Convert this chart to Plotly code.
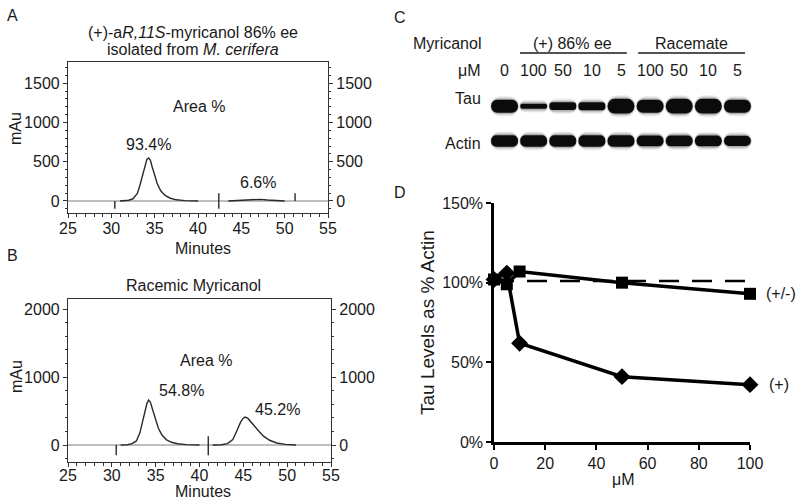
import plotly.graph_objects as go

# ---------------- data ----------------
# Panel A chromatogram: (+)-myricanol 86% ee
a_peak1_time = [31.0, 31.5, 32.0, 32.5, 33.0, 33.3, 33.6, 33.9, 34.1, 34.3, 34.5, 34.7, 35.0, 35.3, 35.7, 36.2, 36.8, 37.5, 38.5, 40.0]
a_peak1_mau = [0, 3, 10, 28, 95, 200, 330, 460, 530, 547, 520, 440, 320, 220, 130, 70, 35, 15, 5, 0]
a_peak2_time = [43.5, 44.5, 45.5, 46.0, 46.6, 47.2, 48.0, 49.0, 50.0]
a_peak2_mau = [0, 5, 15, 21, 25, 21, 12, 4, 0]
a_markers_time = [30.4, 42.4, 51.2]
a_markers_low = [-100, -100, 0]
a_markers_high = [0, 100, 100]
a_peak_labels = ["93.4%", "6.6%"]
a_label_time = [34.3, 46.9]
a_label_mau = [725, 229]

# Panel B chromatogram: racemic myricanol
b_peak1_time = [31.0, 31.8, 32.3, 32.8, 33.2, 33.5, 33.8, 34.0, 34.2, 34.4, 34.7, 35.0, 35.3, 35.7, 36.2, 36.8, 37.5, 38.5, 40.0]
b_peak1_mau = [0, 5, 20, 60, 180, 330, 500, 610, 662, 630, 500, 360, 250, 150, 80, 40, 18, 6, 0]
b_peak2_time = [41.5, 42.5, 43.2, 43.8, 44.3, 44.7, 45.0, 45.2, 45.5, 45.9, 46.4, 46.8, 47.3, 48.0, 48.8, 49.8, 51.0]
b_peak2_mau = [0, 5, 20, 80, 220, 340, 395, 412, 395, 330, 260, 200, 130, 70, 30, 10, 0]
b_markers_time = [30.5, 41.0]
b_markers_low = [-150, -150]
b_markers_high = [0, 130]
b_peak_labels = ["54.8%", "45.2%"]
b_label_time = [37.9, 48.9]
b_label_mau = [809, 529]

minutes_ticks = [25, 30, 35, 40, 45, 50, 55]
a_mau_ticks = [0, 500, 1000, 1500]
b_mau_ticks = [0, 1000, 2000]

# Panel C western blot
lane_conc = ["0", "100", "50", "10", "5", "100", "50", "10", "5"]
lane_index = list(range(9))
tau_band = [1.0, 0.40, 0.60, 0.62, 1.15, 1.0, 1.15, 1.15, 1.0]
actin_band = [1.0, 1.0, 1.0, 1.0, 1.0, 0.95, 0.95, 0.95, 0.9]

# Panel D quantification
conc_um = [0, 5, 10, 50, 100]
tau_racemate = [102, 99, 107, 100, 93]
tau_plus = [102, 106, 62, 41, 36]
vehicle_level = 101
d_x_ticks = [0, 20, 40, 60, 80, 100]
d_y_ticks = [0, 50, 100, 150]

# ---------------- helpers ----------------
W, H = 800, 501
FONT = "Liberation Sans, Arial, sans-serif"
INK = "#1a1a1a"
FS = 16


def px(x):
    return x / W


def py(y):
    return 1 - y / H


fig = go.Figure()

# ---------- Panel A ----------
fig.add_trace(go.Scatter(x=[25, 55], y=[0, 0], mode="lines", line=dict(color="#a8a8a8", width=1.5),
                         xaxis="x", yaxis="y", hoverinfo="skip"))
fig.add_trace(go.Scatter(x=a_peak1_time + [None] + a_peak2_time, y=a_peak1_mau + [None] + a_peak2_mau,
                         mode="lines", line=dict(color="#2a2a2a", width=1.4), xaxis="x", yaxis="y"))
mx, my = [], []
for t, lo, hi in zip(a_markers_time, a_markers_low, a_markers_high):
    mx += [t, t, None]
    my += [lo, hi, None]
fig.add_trace(go.Scatter(x=mx, y=my, mode="lines", line=dict(color="#2a2a2a", width=1.4), xaxis="x", yaxis="y"))
fig.add_trace(go.Scatter(x=[25], y=[0], mode="markers", marker=dict(opacity=0), xaxis="x", yaxis="y2",
                         hoverinfo="skip"))

# ---------- Panel B ----------
fig.add_trace(go.Scatter(x=[25, 55], y=[0, 0], mode="lines", line=dict(color="#a8a8a8", width=1.5),
                         xaxis="x2", yaxis="y3", hoverinfo="skip"))
fig.add_trace(go.Scatter(x=b_peak1_time + [None] + b_peak2_time, y=b_peak1_mau + [None] + b_peak2_mau,
                         mode="lines", line=dict(color="#2a2a2a", width=1.4), xaxis="x2", yaxis="y3"))
mx, my = [], []
for t, lo, hi in zip(b_markers_time, b_markers_low, b_markers_high):
    mx += [t, t, None]
    my += [lo, hi, None]
fig.add_trace(go.Scatter(x=mx, y=my, mode="lines", line=dict(color="#2a2a2a", width=1.4), xaxis="x2", yaxis="y3"))
fig.add_trace(go.Scatter(x=[25], y=[0], mode="markers", marker=dict(opacity=0), xaxis="x2", yaxis="y6",
                         hoverinfo="skip"))

# ---------- Panel C (blot) ----------
TAU_ROW, ACTIN_ROW = 0.0, 1.0
TAU_H, ACTIN_H = 0.37, 0.33
for rows, row_y, hh in [(tau_band, TAU_ROW, TAU_H), (actin_band, ACTIN_ROW, ACTIN_H)]:
    # soft blurred edges: several translucent layers
    for grow, wid, alpha in [(0.22, 1.0, 0.06), (0.15, 0.98, 0.10), (0.08, 0.95, 0.18)]:
        halo = [v * hh + grow for v in rows]
        fig.add_trace(go.Bar(x=lane_index, y=halo, base=[row_y - h / 2 for h in halo], width=wid,
                             marker=dict(color=f"rgba(0,0,0,{alpha})", cornerradius="50%", line=dict(width=0)),
                             xaxis="x3", yaxis="y4", hoverinfo="skip"))
    core = [v * hh for v in rows]
    fig.add_trace(go.Bar(x=lane_index, y=core, base=[row_y - h / 2 for h in core], width=0.92,
                         marker=dict(color="#0b0b0b", cornerradius="50%", line=dict(width=0)),
                         xaxis="x3", yaxis="y4"))

# ---------- Panel D ----------
fig.add_trace(go.Scatter(x=[conc_um[0], conc_um[-1]], y=[vehicle_level, vehicle_level], mode="lines",
                         line=dict(color="black", width=2.5, dash="20px,13px"), xaxis="x4", yaxis="y5",
                         cliponaxis=False))
fig.add_trace(go.Scatter(x=conc_um, y=tau_plus, mode="lines+markers",
                         line=dict(color="black", width=3.5),
                         marker=dict(symbol="diamond", size=13, color="black"),
                         xaxis="x4", yaxis="y5", cliponaxis=False))
fig.add_trace(go.Scatter(x=conc_um, y=tau_racemate, mode="lines+markers",
                         line=dict(color="black", width=3.5),
                         marker=dict(symbol="square", size=12, color="black"),
                         xaxis="x4", yaxis="y5", cliponaxis=False))

# ---------------- axes ----------------
tickfont = dict(family=FONT, size=FS, color=INK)
chrom_x = dict(range=[25, 55], tickvals=minutes_ticks, ticks="outside", ticklen=4, tickwidth=1,
               minor=dict(dtick=1, ticks="outside", ticklen=3, tickcolor="#333"),
               showline=True, linecolor="#333", linewidth=1.2, mirror=True, showgrid=False,
               zeroline=False, tickfont=tickfont, tickcolor="#333", automargin=False)
chrom_y = dict(ticks="outside", ticklen=4, tickwidth=1, tickcolor="#333", showline=True,
               linecolor="#333", linewidth=1.2, showgrid=False, zeroline=False, tickfont=tickfont,
               automargin=False)

fig.update_layout(
    xaxis=dict(domain=[px(68), px(328)], anchor="y", ticklabelstandoff=-3, **chrom_x),
    yaxis=dict(domain=[py(213), py(62)], anchor="x", range=[-153, 1770], tickvals=a_mau_ticks,
               minor=dict(dtick=100, ticks="outside", ticklen=2, tickcolor="#333"), **chrom_y),
    yaxis2=dict(overlaying="y", side="right", anchor="x", range=[-153, 1770], tickvals=a_mau_ticks,
                minor=dict(dtick=100, ticks="outside", ticklen=2, tickcolor="#333"), **chrom_y),
    xaxis2=dict(domain=[px(68), px(331)], anchor="y3", ticklabelstandoff=-5, **chrom_x),
    yaxis3=dict(domain=[py(462), py(299)], anchor="x2", range=[-250, 2150], tickvals=b_mau_ticks,
                minor=dict(dtick=200, ticks="outside", ticklen=2, tickcolor="#333"), **chrom_y),
    yaxis6=dict(overlaying="y3", side="right", anchor="x2", range=[-250, 2150], tickvals=b_mau_ticks,
                minor=dict(dtick=200, ticks="outside", ticklen=2, tickcolor="#333"), **chrom_y),
    xaxis3=dict(domain=[px(490), px(752)], anchor="y4", range=[-0.5, 8.5], visible=False, automargin=False),
    yaxis4=dict(domain=[py(160), py(75)], anchor="x3", range=[1.55, -0.9], visible=False, automargin=False),
    xaxis4=dict(domain=[px(494), px(750)], anchor="y5", range=[0, 100], tickvals=d_x_ticks,
                ticks="outside", ticklen=5, tickwidth=2, tickcolor="black", showline=True,
                linecolor="black", linewidth=2.5, showgrid=False, zeroline=False, tickfont=tickfont,
                automargin=False),
    yaxis5=dict(domain=[py(442), py(203)], anchor="x4", range=[0, 150], tickvals=d_y_ticks,
                ticktext=[f"{v}%" for v in d_y_ticks], ticks="outside", ticklen=5, tickwidth=2,
                tickcolor="black", showline=True, linecolor="black", linewidth=2.5, showgrid=False,
                zeroline=False, tickfont=tickfont, automargin=False),
)

# ---------------- annotations ----------------
ann = []


def text(x, y, s, size=FS, xanchor="center", xref="paper", yref="paper", textangle=0, yanchor="middle"):
    ann.append(dict(x=x, y=y, text=s, xref=xref, yref=yref, showarrow=False, xanchor=xanchor,
                    yanchor=yanchor, textangle=textangle, font=dict(family=FONT, size=size, color=INK)))


# panel letters
text(px(12), py(15), "A")
text(px(12), py(255), "B")
text(px(400), py(18), "C")
text(px(400), py(193), "D")

# Panel A
text(px(193), py(33), "(+)-a<i>R,11S</i>-myricanol 86% ee")
text(px(193), py(49), "isolated from <i>M. cerifera</i>")
text(40.1, 1208, "Area %", xref="x", yref="y")
for s, t, v in zip(a_peak_labels, a_label_time, a_label_mau):
    text(t, v, s, xref="x", yref="y")
text(px(16), py(129), "mAu", textangle=-90)
text(px(203), py(248), "Minutes")

# Panel B
text(px(193), py(285), "Racemic Myricanol")
text(40.7, 1250, "Area %", xref="x2", yref="y3")
for s, t, v in zip(b_peak_labels, b_label_time, b_label_mau):
    text(t, v, s, xref="x2", yref="y3")
text(px(16), py(377), "mAu", textangle=-90)
text(px(203), py(491), "Minutes")

# Panel C
text(px(483), py(44), "Myricanol", xanchor="right")
text(px(483), py(70), "μM", xanchor="right")
text(px(483), py(98), "Tau", xanchor="right")
text(px(483), py(143), "Actin", xanchor="right")
for i, c in zip(lane_index, lane_conc):
    text(i, py(70), c, xref="x3")
text(2.35, py(44), "(+) 86% ee", xref="x3")
text(6.42, py(44), "Racemate", xref="x3")

# Panel D
text(px(427), py(322), "Tau Levels as % Actin", size=19, textangle=-90)
text(px(623), py(479), "μM")
ann.append(dict(x=conc_um[-1], y=tau_racemate[-1], xref="x4", yref="y5", text="(+/-)", showarrow=False,
                xanchor="left", xshift=14, font=dict(family=FONT, size=FS, color=INK)))
ann.append(dict(x=conc_um[-1], y=tau_plus[-1], xref="x4", yref="y5", text="(+)", showarrow=False,
                xanchor="left", xshift=17, font=dict(family=FONT, size=FS, color=INK)))

shapes = [
    dict(type="line", xref="x3", yref="paper", x0=0.53, x1=4.2, y0=py(53), y1=py(53),
         line=dict(color=INK, width=1.3)),
    dict(type="line", xref="x3", yref="paper", x0=4.59, x1=8.26, y0=py(53), y1=py(53),
         line=dict(color=INK, width=1.3)),
]

fig.update_layout(
    width=W, height=H, autosize=False,
    margin=dict(l=0, r=0, t=0, b=0),
    paper_bgcolor="white", plot_bgcolor="rgba(0,0,0,0)",
    showlegend=False, barmode="overlay",
    annotations=ann, shapes=shapes,
    font=dict(family=FONT, size=FS, color=INK),
)

fig.write_html("out.html", config={"displayModeBar": False},
               post_script="document.body.style.margin='0';document.body.style.overflow='hidden';")
